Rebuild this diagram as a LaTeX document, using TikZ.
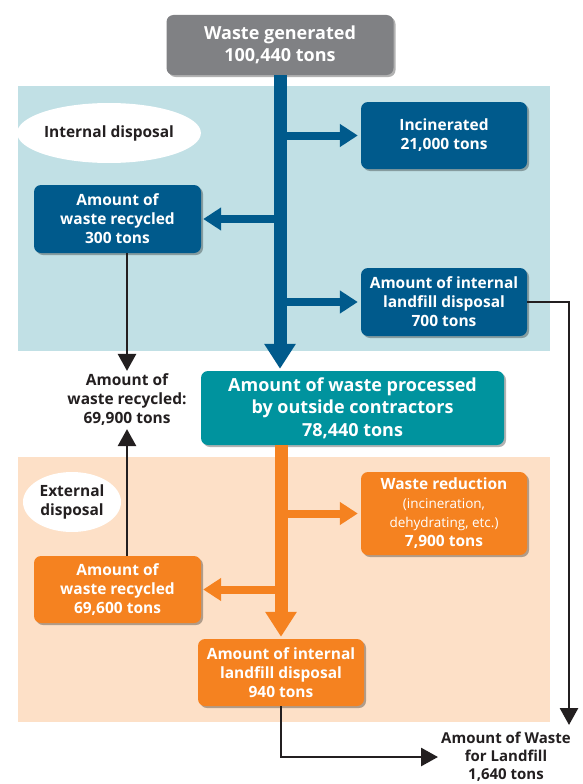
\documentclass[tikz,border=0pt]{standalone}
\usepackage{fontspec}
\setmainfont{Open Sans}
\usetikzlibrary{arrows.meta,shadows,shapes.geometric}
\definecolor{genGray}{HTML}{808184}
\definecolor{dkBlue}{HTML}{005A8C}
\definecolor{bgBlue}{HTML}{C1E0E5}
\definecolor{tealBox}{HTML}{00939E}
\definecolor{orBox}{HTML}{F58220}
\definecolor{bgOr}{HTML}{FDE0C7}
\definecolor{ink}{HTML}{231F20}
\begin{document}
\begin{tikzpicture}[x=1pt,y=-1pt,
  box/.style={rounded corners=7pt, text=white, align=center, inner sep=0pt,
    font=\bfseries\fontsize{15.5}{19}\selectfont,
    drop shadow={shadow xshift=2pt,shadow yshift=-2pt,opacity=0.3,fill=black}},
  bigbox/.style={box, font=\bfseries\fontsize{18}{22.5}\selectfont},
  bluebox/.style={box, fill=dkBlue},
  orbox/.style={box, fill=orBox},
  oval/.style={ellipse, fill=white, inner sep=0pt, text=ink, align=center,
    font=\bfseries\fontsize{15.5}{19.5}\selectfont},
  plain/.style={text=ink, align=center, inner sep=0pt,
    font=\bfseries\fontsize{15.5}{19}\selectfont},
  trunk/.style={line width=13pt, -{Triangle[length=25pt,width=30pt]}},
  branch/.style={line width=8pt, -{Triangle[length=18pt,width=22pt]}},
  blk/.style={draw=ink, line width=2.8pt, -{Triangle[length=17pt,width=18pt]}}
]
\useasboundingbox (0,0) rectangle (582,784);
\fill[white] (0,0) rectangle (582,784);
% backgrounds
\fill[bgBlue] (18,86) rectangle (550,351);
\fill[bgOr] (18,457) rectangle (550,722);
% ovals
\node[oval, minimum width=150pt, minimum height=60pt] (ell1) at (109,133) {Internal disposal};
\node[oval, minimum width=98pt, minimum height=60pt] (ell2) at (72,502) {External\\disposal};
% nodes
\node[bigbox, fill=genGray, minimum width=227pt, minimum height=60pt] (gen) at (280,45) {Waste generated\\100,440 tons};
\node[bluebox, minimum width=166pt, minimum height=67pt] (inc) at (444,135.5) {Incinerated\\21,000 tons};
\node[bluebox, minimum width=167pt, minimum height=68pt] (rec1) at (117.5,219) {Amount of\\waste recycled\\300 tons};
\node[bluebox, minimum width=166pt, minimum height=68pt] (ilf) at (444,302) {Amount of internal\\landfill disposal\\700 tons};
\node[bigbox, fill=tealBox, minimum width=303pt, minimum height=74pt] (teal) at (352.5,408) {Amount of waste processed\\by outside contractors\\78,440 tons};
\node[orbox, minimum width=166pt, minimum height=83pt] (red) at (444,513.5) {Waste reduction\\{\mdseries\fontsize{13.5}{18}\selectfont (incineration,}\\{\mdseries\fontsize{13.5}{18}\selectfont dehydrating, etc.)}\\7,900 tons};
\node[orbox, minimum width=167pt, minimum height=67pt] (rec2) at (117.5,589.5) {Amount of\\waste recycled\\69,600 tons};
\node[orbox, minimum width=166pt, minimum height=67pt] (olf) at (281,672.5) {Amount of internal\\landfill disposal\\940 tons};
\node[plain] (lbl) at (127,400) {Amount of\\waste recycled:\\69,900 tons};
\node[plain, anchor=west, font=\bfseries\fontsize{15}{18}\selectfont] (total) at (441,757) {Amount of Waste\\for Landfill\\1,640 tons};
\coordinate (tr) at (569,725);
% blue flows
\draw[dkBlue, trunk, shorten >=2pt] (gen.south) -- (gen.south |- teal.north);
\draw[dkBlue, branch, shorten >=3pt] (gen.south |- inc.west) -- (inc.west);
\draw[dkBlue, branch, shorten >=2pt] (gen.south |- rec1.east) -- (rec1.east);
\draw[dkBlue, branch, shorten >=3pt] (gen.south |- ilf.west) -- (ilf.west);
% orange flows
\draw[orBox, trunk, shorten >=2pt] (olf.north |- teal.south) -- (olf.north);
\draw[orBox, branch, shorten >=3pt] (olf.north |- red.west) -- (red.west);
\draw[orBox, branch, shorten >=2pt] (olf.north |- rec2.east) -- (rec2.east);
% black connectors
\draw[blk, shorten >=3pt] (lbl.north |- rec1.south) -- (lbl.north);
\draw[blk, shorten >=3pt] (lbl.south |- rec2.north) -- (lbl.south);
\draw[blk] (ilf.east) -| (tr);
\draw[blk, shorten >=3pt] (olf.south) |- (total.west);
\end{tikzpicture}
\end{document}
